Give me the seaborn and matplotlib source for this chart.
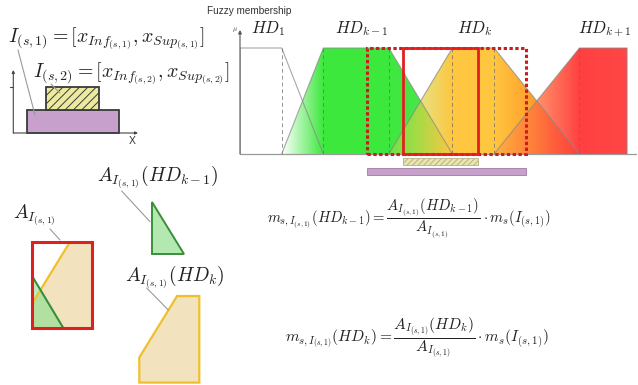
import numpy as np
import pandas as pd
import matplotlib
matplotlib.use("Agg")
import matplotlib.pyplot as plt
import seaborn as sns
from matplotlib.patches import Polygon, Rectangle
from matplotlib.colors import to_rgba

# ---------------- data ----------------
hd_labels = [r"$HD_1$", r"$HD_{k-1}$", r"$HD_k$", r"$HD_{k+1}$"]
# trapezoid membership functions: support [a, d], core [b, c]
hd_a = [0.0, 1.05, 3.75, 6.40]
hd_b = [0.0, 2.10, 5.35, 8.55]
hd_c = [1.05, 3.75, 6.40, 9.75]
hd_d = [2.10, 5.35, 8.55, 9.75]
interval_s1 = [3.20, 7.20]   # I(s,1)
interval_s2 = [4.10, 6.00]   # I(s,2)
# small sketch of the two intervals (top-left)
sketch_s1 = [1.1, 8.5]
sketch_s2 = [2.6, 6.9]
# areas inside the I(s,1) window (unit box)
area_green_u = [0.0, 0.0, 0.52]
area_green_v = [0.60, 0.0, 0.0]
area_yellow_u = [0.0, 0.63, 1.0, 1.0, 0.0]
area_yellow_v = [0.29, 1.0, 1.0, 0.0, 0.0]

# ---------------- style ----------------
sns.set_theme(style="white")
plt.rcParams["mathtext.fontset"] = "cm"
plt.rcParams["font.family"] = ["DejaVu Sans"]
plt.rcParams["hatch.linewidth"] = 0.7

W, H = 638, 385
fig = plt.figure(figsize=(W / 100, H / 100), dpi=100)
fig.patch.set_facecolor("white")


def px_axes(x0, y0, x1, y1, **kw):
    """axes from pixel box (top-left origin)"""
    return fig.add_axes([x0 / W, 1 - y1 / H, (x1 - x0) / W, (y1 - y0) / H], **kw)


# ---------------- membership plot ----------------
ax = px_axes(240, 26.8, 637, 180.5)
ax.set_facecolor("none")
ax.axis("off")

grad_stops = [
    [(0.0, "#ffffff", 1.0), (10.0, "#ffffff", 1.0)],
    [(1.05, "#3de83d", 0.0), (2.10, "#3de83d", 1.0), (3.75, "#3de83d", 1.0), (5.35, "#45e045", 0.9)],
    [(3.75, "#c0e048", 0.35), (5.35, "#ffc640", 1.0), (6.40, "#ffc640", 1.0),
     (7.50, "#ff9a2a", 1.0), (8.55, "#f23a12", 1.0)],
    [(6.40, "#ffa040", 0.55), (8.55, "#ff4040", 1.0), (9.75, "#ff4646", 1.0)],
]

xs = np.linspace(0, 10, 800)
for i in range(4):
    verts = [(hd_a[i], 0), (hd_b[i], 1), (hd_c[i], 1), (hd_d[i], 0)]
    patch = Polygon(verts, closed=True, facecolor="none", edgecolor="none")
    ax.add_patch(patch)
    st = grad_stops[i]
    sx = [s[0] for s in st]
    cols = np.array([to_rgba(s[1], s[2]) for s in st])
    img = np.zeros((1, len(xs), 4))
    for ch in range(4):
        img[0, :, ch] = np.interp(xs, sx, cols[:, ch])
    im = ax.imshow(img, extent=[0, 10, 0, 1], aspect="auto", interpolation="bilinear",
                   origin="lower", zorder=2 + i)
    im.set_clip_path(patch)

# outlines with seaborn
for i in range(4):
    df = pd.DataFrame({"x": [hd_a[i], hd_b[i], hd_c[i], hd_d[i]], "mu": [0, 1, 1, 0]})
    sns.lineplot(data=df, x="x", y="mu", sort=False, estimator=None, ax=ax,
                 color="#8a8a8a", lw=0.8, alpha=0.75, zorder=7)
    for xv, other in ((hd_b[i], hd_a[i]), (hd_c[i], hd_d[i])):
        if xv != other:
            ax.plot([xv, xv], [0, 1], color="#6a6a6a", lw=0.7, alpha=0.7,
                    dashes=(4, 3), zorder=7)

# axes lines
ax.plot([0, 10], [0, 0], color="#9a9a9a", lw=0.9, zorder=8)
ax.annotate("", xy=(0, 1.17), xytext=(0, 0), zorder=8,
            arrowprops=dict(arrowstyle="-|>", color="#555555", lw=0.8,
                            mutation_scale=5, shrinkA=0, shrinkB=0))

# interval windows
ax.add_patch(Rectangle((interval_s1[0], 0), interval_s1[1] - interval_s1[0], 1,
                       fill=False, edgecolor="#c81e1e", lw=2.2,
                       linestyle=(0, (1.1, 0.8)), zorder=9))
ax.add_patch(Rectangle((interval_s2[0], 0), interval_s2[1] - interval_s2[0], 1,
                       fill=False, edgecolor="#e41e1e", lw=2.0, zorder=10))
# interval bars below axis
plt.rcParams["hatch.color"] = "#a8a070"
ax.add_patch(Rectangle((interval_s2[0], -0.104), interval_s2[1] - interval_s2[0], 0.064,
                       facecolor="#ebe6ae", edgecolor="#b8b088", lw=0.6,
                       hatch="//////", zorder=9))
ax.add_patch(Rectangle((interval_s1[0], -0.198), interval_s1[1] - interval_s1[0], 0.063,
                       facecolor="#c8a0cc", edgecolor="#a07aa4", lw=0.6, zorder=9))
ax.set_xlim(0, 10)
ax.set_ylim(-0.25, 1.2)

# ---------------- sketch (top-left) ----------------
plt.rcParams["hatch.color"] = "#6a6a40"
sk = px_axes(13.3, 70, 138, 133)
sk.set_facecolor("none")
sk.axis("off")
sk.add_patch(Rectangle((sketch_s1[0], 0), sketch_s1[1] - sketch_s1[0], 0.365,
                       facecolor="#c8a0cc", edgecolor="#3a3a3a", lw=1.3, zorder=3,
                       clip_on=False))
sk.add_patch(Rectangle((sketch_s2[0], 0.365), sketch_s2[1] - sketch_s2[0], 0.36,
                       facecolor="#ecea9e", edgecolor="#3a3a3a", lw=1.3, hatch="////",
                       zorder=3, clip_on=False))
sk.annotate("", xy=(0, 1.0), xytext=(0, 0),
            arrowprops=dict(arrowstyle="-|>", color="#444444", lw=0.8,
                            mutation_scale=4, shrinkA=0, shrinkB=0))
sk.annotate("", xy=(10, 0), xytext=(0, 0),
            arrowprops=dict(arrowstyle="-|>", color="#444444", lw=0.8,
                            mutation_scale=4, shrinkA=0, shrinkB=0))
sk.plot([-0.27, 0], [0.73, 0.73], color="#444444", lw=0.8, clip_on=False)
sk.set_xlim(0, 10)
sk.set_ylim(0, 1)

# ---------------- area shapes (bottom-left) ----------------
def area_axes(x0, y0):
    a = px_axes(x0, y0, x0 + 60, y0 + 86.6)
    a.set_facecolor("none")
    a.axis("off")
    a.set_xlim(0, 1)
    a.set_ylim(0, 1)
    return a

yellow_fill = "#f3e2be"
yellow_edge = "#f0c02c"
green_edge = "#3a8e3a"

bx = area_axes(32.3, 241.7)
bx.add_patch(Polygon(list(zip(area_yellow_u, area_yellow_v)), closed=True,
                     facecolor=yellow_fill, edgecolor="none", zorder=2))
bx.add_patch(Polygon(list(zip(area_green_u, area_green_v)), closed=True,
                     facecolor="#7de08a", alpha=0.55, edgecolor="none", zorder=3))
bx.plot(area_yellow_u[:2], area_yellow_v[:2], color=yellow_edge, lw=1.6, zorder=4)
bx.plot([area_green_u[0], area_green_u[2]], [area_green_v[0], area_green_v[2]],
        color=green_edge, lw=1.5, zorder=4)
bx.add_patch(Rectangle((0, 0), 1, 1, fill=False, edgecolor="#dd2020", lw=2.2,
                       zorder=5, clip_on=False))

gx = area_axes(152.3, 254.3 - 86.6)
gx.add_patch(Polygon(list(zip(area_green_u, area_green_v)), closed=True,
                     facecolor="#b3e8b0", edgecolor=green_edge, lw=1.4, clip_on=False))

yx = area_axes(139.3, 296)
yx.add_patch(Polygon(list(zip(area_yellow_u, area_yellow_v)), closed=True,
                     facecolor=yellow_fill, edgecolor=yellow_edge, lw=1.6, clip_on=False))

# ---------------- overlay: texts and leader lines ----------------
ov = fig.add_axes([0, 0, 1, 1], zorder=20)
ov.set_facecolor("none")
ov.axis("off")
ov.set_xlim(0, W)
ov.set_ylim(H, 0)

tc = "#222222"
ov.text(207, 11, "Fuzzy membership", fontsize=7.2, color="#333333",
        family=["Liberation Sans", "DejaVu Sans"], ha="left", va="center")
ov.text(232, 30, r"$\mu$", fontsize=5, color="#333333", ha="left", va="center")
ov.text(129, 141, "X", fontsize=7.5, color="#333333",
        family=["Liberation Sans", "DejaVu Sans"], ha="left", va="center")

for lab, xl in zip(hd_labels, [250.7, 335, 456.7, 578.3]):
    ov.text(xl, 29, lab, fontsize=12, color=tc, ha="left", va="center")

ov.text(8, 38, r"$I_{(s,1)} = [x_{Inf_{(s,1)}}, x_{Sup_{(s,1)}}]$",
        fontsize=14.3, color=tc, ha="left", va="center")
ov.text(33, 73, r"$I_{(s,2)} = [x_{Inf_{(s,2)}}, x_{Sup_{(s,2)}}]$",
        fontsize=14.3, color=tc, ha="left", va="center")

ov.text(13, 215, r"$A_{I_{(s,1)}}$", fontsize=14, color=tc, ha="left", va="center")
ov.text(97, 177, r"$A_{I_{(s,1)}}(HD_{k-1})$", fontsize=14, color=tc,
        ha="left", va="center")
ov.text(125, 277, r"$A_{I_{(s,1)}}(HD_k)$", fontsize=14, color=tc,
        ha="left", va="center")

ov.text(266.7, 219,
        r"$m_{s,I_{(s,1)}}(HD_{k-1}) = \dfrac{A_{I_{(s,1)}}(HD_{k-1})}{A_{I_{(s,1)}}} \cdot m_s(I_{(s,1)})$",
        fontsize=10.6, color=tc, ha="left", va="center")
ov.text(285, 338,
        r"$m_{s,I_{(s,1)}}(HD_k) = \dfrac{A_{I_{(s,1)}}(HD_k)}{A_{I_{(s,1)}}} \cdot m_s(I_{(s,1)})$",
        fontsize=11.2, color=tc, ha="left", va="center")

lc = "#9a9a9a"
for (x0, y0), (x1, y1) in [((18, 50), (35, 115)), ((51, 84), (60, 93)),
                           ((50, 229), (60, 240)), ((121.7, 191), (150, 221.7)),
                           ((146.7, 288), (168.3, 310))]:
    ov.plot([x0, x1], [y0, y1], color=lc, lw=0.8)

fig.savefig("out.png", dpi=100, facecolor="white")
